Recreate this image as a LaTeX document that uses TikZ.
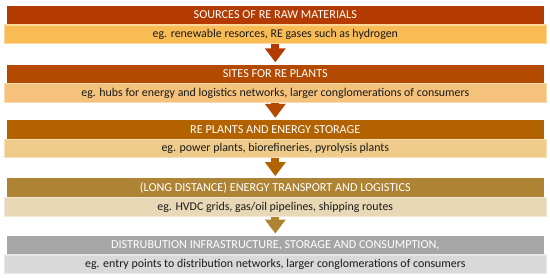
\documentclass[tikz,border=0pt]{standalone}
\usepackage{fontspec}
\setmainfont{Carlito}
\usetikzlibrary{positioning,arrows.meta}

\definecolor{headA}{HTML}{B33A00}
\definecolor{headB}{HTML}{B34A00}
\definecolor{headC}{HTML}{B36200}
\definecolor{headD}{HTML}{AE8333}
\definecolor{headE}{HTML}{A6A6A6}
\definecolor{descA}{HTML}{F9BC55}
\definecolor{descB}{HTML}{F4C27A}
\definecolor{descC}{HTML}{EFCB8A}
\definecolor{descD}{HTML}{E9D8B6}
\definecolor{descE}{HTML}{D9D9D9}

\begin{document}
\begin{tikzpicture}[x=1pt,y=1pt,
    head/.style={minimum width=537pt, minimum height=18.5pt, inner sep=0pt,
        text=white, font=\fontsize{12.2}{13}\selectfont},
    desc/.style={minimum width=541.8pt, minimum height=18.5pt, inner sep=0pt,
        line width=1.2pt, text=black!90, font=\fontsize{11.9}{13}\selectfont},
    flow/.style={line width=8pt, -{Triangle[width=20pt,length=14pt]}, shorten >=2pt}]
    \useasboundingbox (0,0) rectangle (550,-277);

    % Stages
    \node[head, fill=headA] (head1) at (275.3,-14.9) {SOURCES OF RE RAW MATERIALS};
    \node[desc, fill=descA, draw=descA!60!white, below=0pt of head1] (desc1)
        {eg. renewable resorces, RE gases such as hydrogen};

    \node[head, fill=headB] (head2) at (275.3,-73.8) {SITES FOR RE PLANTS};
    \node[desc, fill=descB, draw=descB!60!white, below=0pt of head2] (desc2)
        {eg. hubs for energy and logistics networks, larger conglomerations of consumers};

    \node[head, fill=headC] (head3) at (275.3,-129.3) {RE PLANTS AND ENERGY STORAGE};
    \node[desc, fill=descC, draw=descC!60!white, below=0pt of head3] (desc3)
        {eg. power plants, biorefineries, pyrolysis plants};

    \node[head, fill=headD] (head4) at (275.3,-187.6) {(LONG DISTANCE) ENERGY TRANSPORT AND LOGISTICS};
    \node[desc, fill=descD, draw=descD!60!white, below=0pt of head4] (desc4)
        {eg. HVDC grids, gas/oil pipelines, shipping routes};

    \node[head, fill=headE] (head5) at (275.3,-245) {DISTRUBUTION INFRASTRUCTURE, STORAGE AND CONSUMPTION,};
    \node[desc, fill=descE, draw=descE!60!white, below=0pt of head5] (desc5)
        {eg. entry points to distribution networks, larger conglomerations of consumers};

    % Arrows between stages
    \draw[flow, headA] (desc1) -- (head2);
    \draw[flow, headB] (desc2) -- (head3);
    \draw[flow, headC] (desc3) -- (head4);
    \draw[flow, headD] (desc4) -- (head5);
\end{tikzpicture}
\end{document}
